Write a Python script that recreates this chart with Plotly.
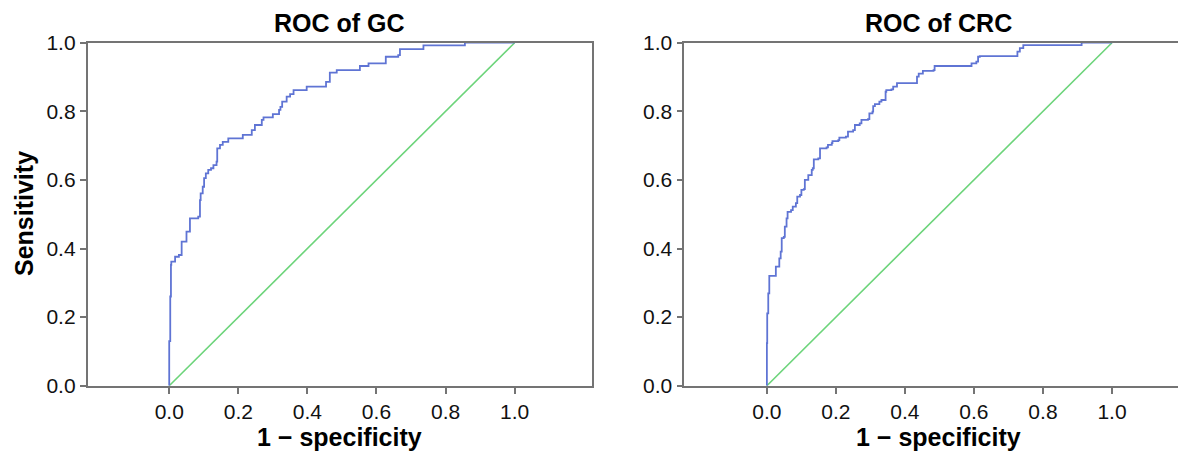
import plotly.graph_objects as go

# ROC curve vertices (1 - specificity, sensitivity); steps drawn right-then-up
gc_fpr = [0.0, 0.0, 0.003, 0.005, 0.006, 0.017, 0.028, 0.036, 0.036, 0.05, 0.06,
          0.084, 0.089, 0.091, 0.097, 0.101, 0.106, 0.113, 0.121, 0.128, 0.137,
          0.139, 0.147, 0.155, 0.171, 0.213, 0.239, 0.248, 0.268, 0.273, 0.3,
          0.318, 0.322, 0.327, 0.34, 0.35, 0.36, 0.398, 0.454, 0.465, 0.485,
          0.552, 0.577, 0.627, 0.663, 0.668, 0.736, 0.856, 1.0]
gc_tpr = [0.0, 0.13, 0.26, 0.352, 0.362, 0.376, 0.381, 0.386, 0.42, 0.449, 0.488,
          0.493, 0.541, 0.561, 0.58, 0.605, 0.619, 0.629, 0.634, 0.643, 0.653,
          0.692, 0.702, 0.711, 0.721, 0.731, 0.745, 0.76, 0.775, 0.782, 0.792,
          0.804, 0.813, 0.828, 0.843, 0.85, 0.862, 0.872, 0.886, 0.913, 0.92,
          0.932, 0.94, 0.959, 0.964, 0.981, 0.992, 1.0, 1.0]

crc_fpr = [0.0, 0.0, 0.001, 0.004, 0.007, 0.026, 0.036, 0.04, 0.043, 0.049, 0.052,
           0.057, 0.06, 0.07, 0.075, 0.084, 0.088, 0.096, 0.1, 0.107, 0.11, 0.12,
           0.13, 0.133, 0.136, 0.149, 0.154, 0.173, 0.177, 0.188, 0.19, 0.207,
           0.21, 0.229, 0.235, 0.25, 0.255, 0.269, 0.274, 0.293, 0.297, 0.306,
           0.308, 0.313, 0.326, 0.332, 0.344, 0.346, 0.361, 0.366, 0.377, 0.435,
           0.44, 0.452, 0.483, 0.486, 0.593, 0.607, 0.612, 0.617, 0.726, 0.733,
           0.743, 0.912, 1.0]
crc_tpr = [0.0, 0.124, 0.211, 0.269, 0.32, 0.347, 0.371, 0.391, 0.43, 0.434, 0.464,
           0.488, 0.507, 0.512, 0.522, 0.532, 0.551, 0.556, 0.571, 0.573, 0.6, 0.614,
           0.629, 0.634, 0.66, 0.663, 0.692, 0.695, 0.702, 0.707, 0.713, 0.716,
           0.723, 0.726, 0.741, 0.745, 0.76, 0.765, 0.775, 0.777, 0.794, 0.799,
           0.815, 0.821, 0.828, 0.833, 0.857, 0.862, 0.864, 0.872, 0.882, 0.901,
           0.91, 0.918, 0.92, 0.932, 0.94, 0.945, 0.959, 0.961, 0.974, 0.984,
           0.993, 1.0, 1.0]

# chance (reference) line
ref_x = [0.0, 1.0]
ref_y = [0.0, 1.0]

panel_titles = ["ROC of GC", "ROC of CRC"]
x_title = "1 \u2212 specificity"
y_title = "Sensitivity"
x_ticks = [0.0, 0.2, 0.4, 0.6, 0.8, 1.0]
y_ticks = [0.0, 0.2, 0.4, 0.6, 0.8, 1.0]
tick_text = ["0.0", "0.2", "0.4", "0.6", "0.8", "1.0"]

W, H = 1178, 453
CURVE = "#5f74d4"
CHANCE = "#6cd47a"
AXIS = "#747474"
FONT = "Liberation Sans, Arial, sans-serif"

fig = go.Figure()

for i, (fx, fy) in enumerate([(gc_fpr, gc_tpr), (crc_fpr, crc_tpr)]):
    xa = "x" if i == 0 else "x2"
    ya = "y" if i == 0 else "y2"
    fig.add_trace(go.Scatter(x=ref_x, y=ref_y, mode="lines", xaxis=xa, yaxis=ya,
                             line=dict(color=CHANCE, width=1.6), showlegend=False,
                             hoverinfo="skip"))
    fig.add_trace(go.Scatter(x=fx, y=fy, mode="lines", xaxis=xa, yaxis=ya,
                             line=dict(color=CURVE, width=1.8, shape="hv"),
                             showlegend=False))


def px_x(p):
    return p / W


def px_y(p):
    return 1 - p / H


y_dom = [px_y(385.7), px_y(42.7)]
dom_left = [px_x(87.7), px_x(592.0)]
dom_right = [px_x(684.4), 1.0]

axis_common = dict(showgrid=False, zeroline=False, showline=True, linecolor=AXIS,
                   linewidth=1.8, ticks="outside", ticklen=6, tickwidth=1.5,
                   tickcolor=AXIS, automargin=False,
                   tickfont=dict(family=FONT, size=21, color="#111"))

fig.update_layout(
    template="none",
    width=W, height=H,
    margin=dict(l=0, r=0, t=0, b=0, pad=0),
    showlegend=False,
    paper_bgcolor="white", plot_bgcolor="white",
    xaxis=dict(domain=dom_left, range=[-0.236, 1.224], tickvals=x_ticks,
               ticktext=tick_text, mirror=True, anchor="y", **axis_common),
    yaxis=dict(domain=y_dom, range=[0, 1], tickvals=y_ticks, ticktext=tick_text,
               mirror=True, anchor="x", **axis_common),
    xaxis2=dict(domain=dom_right, range=[-0.239, (1178 - 767) / 345.0],
                tickvals=x_ticks, ticktext=tick_text, mirror=True, anchor="y2",
                **axis_common),
    yaxis2=dict(domain=y_dom, range=[0, 1], tickvals=y_ticks, ticktext=tick_text,
                mirror=False, anchor="x2", **axis_common),
)

centers = [(87.7 + 592.0) / 2, 938.0]
ann = []
for c, t in zip(centers, panel_titles):
    ann.append(dict(text="<b>%s</b>" % t, x=px_x(c), y=px_y(23), xref="paper",
                    yref="paper", xanchor="center", yanchor="middle", showarrow=False,
                    font=dict(family=FONT, size=25, color="#000")))
    ann.append(dict(text="<b>%s</b>" % x_title, x=px_x(c), y=px_y(437), xref="paper",
                    yref="paper", xanchor="center", yanchor="middle", showarrow=False,
                    font=dict(family=FONT, size=25, color="#000")))
ann.append(dict(text="<b>%s</b>" % y_title, x=px_x(24), y=px_y(214), xref="paper",
                yref="paper", xanchor="center", yanchor="middle", showarrow=False,
                textangle=-90, font=dict(family=FONT, size=25, color="#000")))
fig.update_layout(annotations=ann)

fig.write_html("out.html")
